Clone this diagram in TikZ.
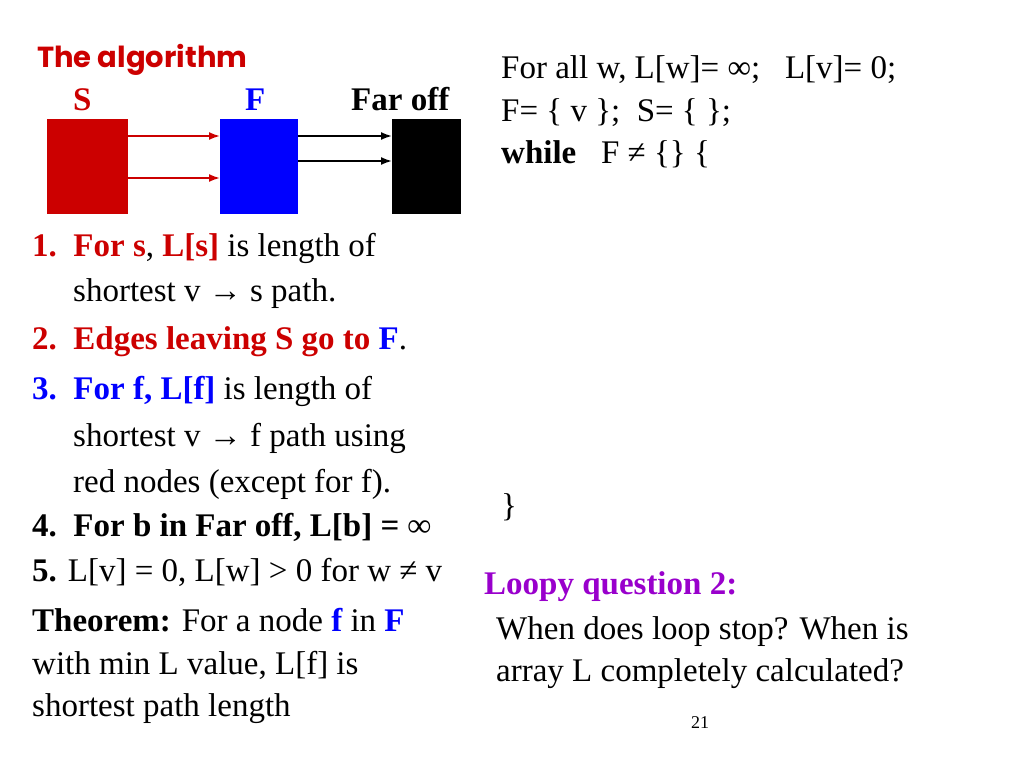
\documentclass[tikz,border=0pt]{standalone}
\usepackage{fontspec}
\usetikzlibrary{arrows.meta}
\setmainfont{Liberation Serif}
\newfontfamily\titlefont{Poppins}
\definecolor{dred}{HTML}{CC0000}
\definecolor{dblue}{HTML}{0000FF}
\definecolor{lpurple}{HTML}{9900CC}
\begin{document}
\begin{tikzpicture}[x=1pt,y=-1pt,
  txt/.style={anchor=base west,inner sep=0pt,font=\fontsize{33}{38}\selectfont},
  blockbox/.style={minimum width=#1,minimum height=95pt,inner sep=0pt,anchor=north west},
  arr/.style={-{Latex[length=11pt,width=8pt]},line width=1.8pt}]
\useasboundingbox (0,0) rectangle (1024,768);
\node[txt,font=\titlefont\bfseries\fontsize{29}{34}\selectfont,text=dred] (title) at (37,67) {The algorithm};
\node[txt,font=\bfseries\fontsize{33}{38}\selectfont,text=dred] (ls) at (73,110) {S};
\node[txt,font=\bfseries\fontsize{33}{38}\selectfont,text=dblue] (lf) at (245,110) {F};
\node[txt,font=\bfseries\fontsize{33}{38}\selectfont] (lfar) at (351,110) {Far off};
\node[blockbox=81pt,fill=dred] (S) at (47,119) {};
\node[blockbox=78pt,fill=dblue] (F) at (220,119) {};
\node[blockbox=69pt,fill=black] (B) at (392,119) {};
\draw[arr,dred] ([yshift=-17pt]S.north east) -- ([yshift=-17pt]F.north west);
\draw[arr,dred] ([yshift=-59pt]S.north east) -- ([yshift=-59pt]F.north west);
\draw[arr] ([yshift=-17pt]F.north east) -- ([yshift=-17pt]B.north west);
\draw[arr] ([yshift=-42pt]F.north east) -- ([yshift=-42pt]B.north west);
\node[txt] (i1) at (32,256) {\textbf{\color{dred}1.\ \ For s}, \textbf{\color{dred}L[s]} is length of};
\node[txt] (i1b) at (73,301) {shortest v → s path.};
\node[txt] (i2) at (32,349) {\textbf{\color{dred}2.\ \ Edges leaving S go to \color{dblue}F}.};
\node[txt] (i3) at (32,399) {\textbf{\color{dblue}3.\ \ For f, L[f]} is length of};
\node[txt] (i3b) at (73,446) {shortest v → f path using};
\node[txt] (i3c) at (73,492) {red nodes (except for f).};
\node[txt] (i4) at (32,536) {\textbf{4.\ \ For b in Far off, L[b] = ∞}};
\node[txt] (i5) at (32,581) {\textbf{5.} L[v] = 0, L[w] > 0 for w ≠ v};
\node[txt] (th1) at (32,631) {\textbf{Theorem:} For a node \textbf{\color{dblue}f} in \textbf{\color{dblue}F}};
\node[txt] (th2) at (32,674) {with min L value, L[f] is};
\node[txt] (th3) at (32,716) {shortest path length};
\node[txt] (r1) at (501,78) {For all w, L[w]= ∞;\ \ \ L[v]= 0;};
\node[txt] (r2) at (501,121) {F= \{ v \};\ \ S= \{ \};};
\node[txt] (r3) at (501,163) {\textbf{while}\ \ \ F ≠ \{\} \{};
\node[txt] (r4) at (501,516) {\}};
\node[txt,font=\bfseries\fontsize{33}{38}\selectfont,text=lpurple] (lq) at (484,594) {Loopy question 2:};
\node[txt] (q1) at (496,639) {When does loop stop? When is};
\node[txt] (q2) at (496,681) {array L completely calculated?};
\node[txt,font=\fontsize{18}{20}\selectfont] (pg) at (691,728) {21};
\end{tikzpicture}
\end{document}
